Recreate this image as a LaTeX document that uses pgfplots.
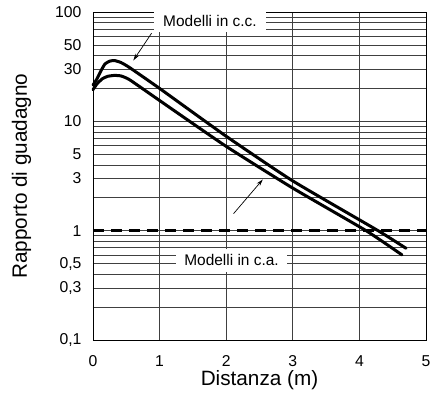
\documentclass[border=0pt]{standalone}
\usepackage{pgfplots}
\pgfplotsset{compat=1.18}
\usepackage{fontspec}
\setmainfont{Liberation Sans}
\usetikzlibrary{arrows.meta}
\begin{document}
\begin{tikzpicture}
\begin{axis}[
  scale only axis,
  width=333bp, height=328bp,
  xmin=0, xmax=5, ymin=0.1, ymax=100,
  ymode=log,
  xtick={0,1,2,3,4,5},
  ytick={0.1,0.3,0.5,1,3,5,10,30,50,100},
  yticklabels={{0,1},{0,3},{0,5},1,3,5,10,30,50,100},
  minor ytick={0.2,0.4,0.6,0.7,0.8,0.9,2,4,6,7,8,9,20,40,60,70,80,90},
  /pgf/number format/assume math mode=true,
  grid=both,
  major grid style={black!75, line width=0.6bp},
  minor grid style={black!75, line width=0.6bp},
  major tick length=0pt, minor tick length=0pt,
  axis line style={black, line width=0.9bp},
  tick label style={font=\fontsize{15.8}{18}\selectfont},
  xticklabel style={anchor=center, yshift=-21bp},
  yticklabel style={anchor=east, xshift=-8bp},
  xlabel={Distanza (m)},
  ylabel={Rapporto di guadagno},
  label style={font=\fontsize{20.8}{24}\selectfont},
  xlabel style={at={(axis description cs:0.5,-0.123)}, anchor=center},
  ylabel style={at={(axis description cs:-0.215,0.5)}, anchor=center},
  clip=false,
]
\addplot[black, line width=2.6bp, dash pattern=on 11bp off 7bp] coordinates {(0,1) (5,1)};
\addplot[black, line width=3bp, line join=round, line cap=round, smooth, tension=0.3] coordinates {
 (0,21.5) (0.06,24.5) (0.12,29) (0.18,33.5) (0.25,35.5) (0.32,36) (0.42,34.5) (0.55,31)
 (1,20) (2,7.3) (3,2.85) (4.28,1) (4.7,0.69)};
\addplot[black, line width=3bp, line join=round, line cap=round, smooth, tension=0.3] coordinates {
 (0,19.5) (0.06,22) (0.14,24.5) (0.22,25.8) (0.32,26.3) (0.42,26) (0.55,24)
 (1,15.5) (2,5.9) (3,2.45) (4.1,1) (4.64,0.6)};
\node[fill=white, inner xsep=9.5bp, inner ysep=5bp, font=\fontsize{15.5}{18}\selectfont] at (axis cs:1.757,82) {Modelli in c.c.};
\draw[black, line width=0.7bp, -{Stealth[length=7bp,width=4bp]}] (axis cs:0.88,64) -- (axis cs:0.605,36);
\node[fill=white, inner xsep=8bp, inner ysep=6bp, font=\fontsize{15.5}{18}\selectfont] at (axis cs:2.08,0.536) {Modelli in c.a.\hspace{10bp}};
\draw[black, line width=0.7bp, -{Stealth[length=7bp,width=4bp]}] (axis cs:2.11,1.43) -- (axis cs:2.55,2.94);
\end{axis}
\pgfresetboundingbox
\path[use as bounding box] (-93bp,-54bp) rectangle (341bp,340bp);
\end{tikzpicture}
\end{document}
